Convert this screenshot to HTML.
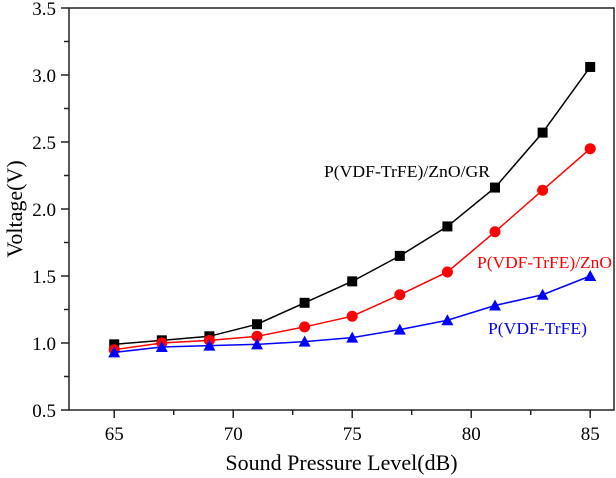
<!DOCTYPE html>
<html><head><meta charset="utf-8"><style>body{margin:0;background:#fff}svg{display:block;font-family:"Liberation Serif",serif}</style></head>
<body>
<svg id="c" width="616" height="478"></svg>
<script>
const xs=[65,67,69,71,73,75,77,79,81,83,85];
const blackVals=[0.99,1.02,1.05,1.14,1.30,1.46,1.65,1.87,2.16,2.57,3.06];
const redVals=[0.95,1.00,1.02,1.05,1.12,1.20,1.36,1.53,1.83,2.14,2.45];
const blueVals=[0.93,0.97,0.98,0.99,1.01,1.04,1.10,1.17,1.28,1.36,1.50];
const xTicks=[65,70,75,80,85];
const yTicks=[0.5,1.0,1.5,2.0,2.5,3.0,3.5];
const L=69,R=614,T=8,B=410,x0=63.1,x1=86,y0=0.5,y1=3.5;
const X=v=>L+(v-x0)/(x1-x0)*(R-L), Y=v=>B-(v-y0)/(y1-y0)*(B-T);
const s=document.getElementById('c'),NS='http://www.w3.org/2000/svg';
function el(t,a,txt){const e=document.createElementNS(NS,t);for(const k in a)e.setAttribute(k,a[k]);if(txt!==undefined)e.textContent=txt;s.appendChild(e);return e;}
let f=el('rect',{x:L,y:T,width:R-L,height:B-T,fill:'none',stroke:'#222','stroke-width':1.5});

yTicks.forEach(v=>{let t=el('line',{x1:L-8,x2:L,y1:Y(v),y2:Y(v),stroke:'#222','stroke-width':1.5});

let l=el('text',{x:L-13,y:Y(v)+7,'text-anchor':'end','font-size':19},v.toFixed(1));

if(v<3.5){let m=el('line',{x1:L-5,x2:L,y1:Y(v+0.25),y2:Y(v+0.25),stroke:'#222','stroke-width':1.5});}});
xTicks.forEach(v=>{let t=el('line',{x1:X(v),x2:X(v),y1:B,y2:B+8,stroke:'#222','stroke-width':1.5});

let l=el('text',{x:X(v),y:B+30,'text-anchor':'middle','font-size':19},v);
});
[67.5,72.5,77.5,82.5].forEach(v=>{let m=el('line',{x1:X(v),x2:X(v),y1:B,y2:B+5,stroke:'#222','stroke-width':1.5});});
let xt=el('text',{x:(L+R)/2,y:470,'text-anchor':'middle','font-size':22},'Sound Pressure Level(dB)');

let yt=el('text',{x:0,y:0,'text-anchor':'middle','font-size':22,transform:`translate(22,${(T+B)/2}) rotate(-90)`},'Voltage(V)');

function series(vals,col,shape,name){
 let p=el('polyline',{points:xs.map((x,i)=>X(x)+','+Y(vals[i])).join(' '),fill:'none',stroke:col,'stroke-width':1.5});
 
 xs.forEach((x,i)=>{let cx=X(x),cy=Y(vals[i]),m;
  if(shape==='sq')m=el('rect',{x:cx-5,y:cy-5,width:10,height:10,fill:col});
  else if(shape==='ci')m=el('circle',{cx,cy,r:5.5,fill:col});
  else m=el('polygon',{points:`${cx},${cy-6} ${cx-6},${cy+5} ${cx+6},${cy+5}`,fill:col});
  });
}
series(blackVals,'#000','sq','zno-gr');
series(redVals,'#f00','ci','zno');
series(blueVals,'#00f','tri','pvdf');
[['P(VDF-TrFE)/ZnO/GR',324,177,166,'#000'],['P(VDF-TrFE)/ZnO',477,268,135,'#f00'],['P(VDF-TrFE)',488,334,99,'#00f']].forEach(([t,x,y,w,c])=>{
 let e=el('text',{x,y,'font-size':17,textLength:w,lengthAdjust:'spacingAndGlyphs',fill:c},t);});
</script>
</body></html>
